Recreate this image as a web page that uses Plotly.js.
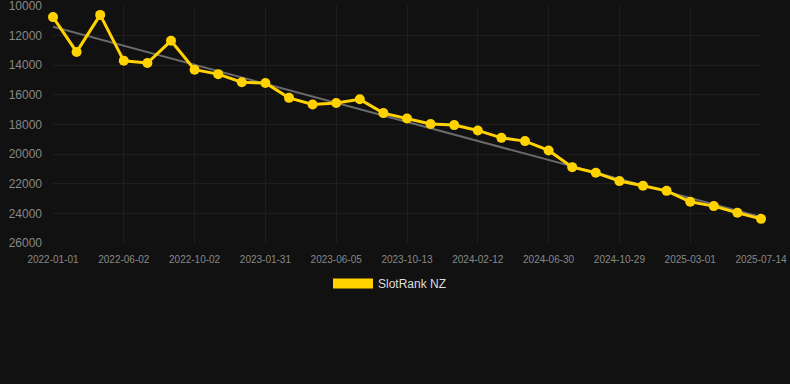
<!DOCTYPE html>
<html>
<head>
<meta charset="utf-8">
<script src="https://cdn.plot.ly/plotly-3.0.1.min.js"></script>
<style>html,body{margin:0;padding:0;background:#111111;}#chart{width:790px;height:384px;}</style>
</head>
<body>
<div id="chart"></div>
<script>
const dates = ["2022-01-01","2022-02-20","2022-04-11","2022-06-02","2022-07-12","2022-08-22","2022-10-02","2022-11-11","2022-12-21","2023-01-31","2023-03-16","2023-04-25","2023-06-05","2023-07-17","2023-08-30","2023-10-13","2023-11-22","2024-01-02","2024-02-12","2024-03-29","2024-05-15","2024-06-30","2024-08-11","2024-09-19","2024-10-29","2024-12-09","2025-01-20","2025-03-01","2025-04-13","2025-05-29","2025-07-14"];
const ranks = [10750,13100,10600,13700,13850,12350,14300,14600,15150,15200,16200,16650,16550,16300,17230,17590,17970,18040,18400,18900,19120,19750,20880,21260,21820,22140,22480,23220,23510,23960,24370];
const trendX = ["2022-01-01","2025-07-14"];
const trendY = [11400,24250];
const tickDates = ["2022-01-01","2022-06-02","2022-10-02","2023-01-31","2023-06-05","2023-10-13","2024-02-12","2024-06-30","2024-10-29","2025-03-01","2025-07-14"];
const yTicks = [10000,12000,14000,16000,18000,20000,22000,24000,26000];
const seriesName = "SlotRank NZ";

const yellow = "#FFD200";
const traces = [
  {x: trendX, y: trendY, type: "scatter", mode: "lines", line: {color: "#6a6a6a", width: 2}, showlegend: false, hoverinfo: "skip"},
  {x: dates, y: ranks, type: "scatter", mode: "lines+markers", line: {color: yellow, width: 3}, marker: {color: yellow, size: 10}, showlegend: false, cliponaxis: false},
  {x: [null], y: [null], type: "scatter", mode: "lines", name: seriesName, line: {color: yellow, width: 12}, showlegend: true}
];
const layout = {
  width: 790, height: 384,
  paper_bgcolor: "#111111", plot_bgcolor: "#111111",
  margin: {l: 53, r: 29, t: 6, b: 141},
  font: {family: "Liberation Sans, Arial, sans-serif", color: "#888888"},
  xaxis: {type: "category", categoryorder: "array", categoryarray: dates, range: [0, 30],
    tickmode: "array", tickvals: tickDates, ticktext: tickDates, tickangle: 0,
    tickfont: {size: 10, color: "#888888"}, showgrid: true, gridcolor: "#1e1e1e", zeroline: false,
    showline: false, ticks: "outside", ticklen: 7, tickcolor: "rgba(0,0,0,0)"},
  yaxis: {range: [26000, 9999], tickmode: "array", tickvals: yTicks, ticktext: yTicks.map(String),
    tickfont: {size: 12, color: "#888888"}, showgrid: true, gridcolor: "#1e1e1e", zeroline: false,
    ticks: "", ticklabelstandoff: 10, ticklabeloverflow: "allow"},
  showlegend: true,
  legend: {orientation: "h", x: 0.476, xanchor: "center", y: -0.11, yanchor: "top", itemwidth: 40,
    font: {size: 12, color: "#dddddd"}, bgcolor: "rgba(0,0,0,0)"}
};
Plotly.newPlot("chart", traces, layout, {displayModeBar: false, staticPlot: true});
</script>
</body>
</html>
